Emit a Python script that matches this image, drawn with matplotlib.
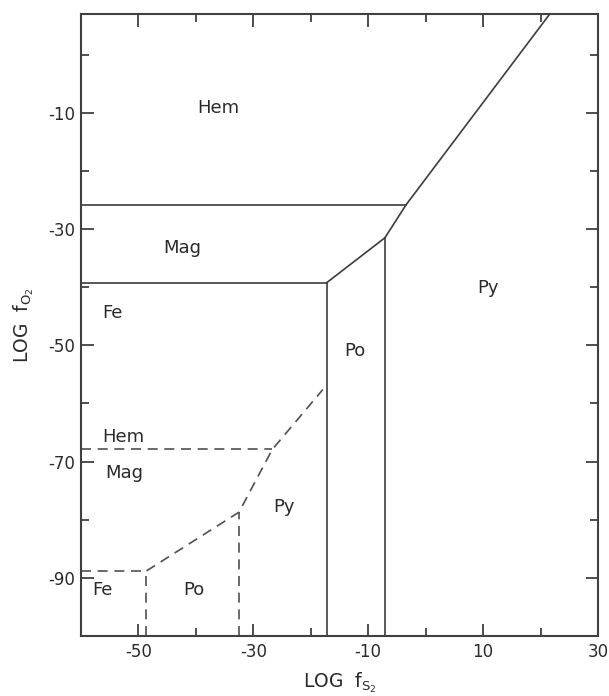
import matplotlib
matplotlib.use("Agg")
import matplotlib.pyplot as plt
from matplotlib.ticker import MultipleLocator

plt.rcParams['font.family'] = ['DejaVu Sans']
plt.rcParams['axes.unicode_minus'] = False

# ---- data (log fS2, log fO2) ----
xlim = (-60, 30)
ylim = (-100, 7)

# solid boundaries (upper set)
hem_mag_x = [-60, -3.4]
hem_mag_y = [-25.8, -25.8]
mag_fe_x = [-60, -17.2]
mag_fe_y = [-39.2, -39.2]
po_top_x = [-17.2, -7.1]
po_top_y = [-39.2, -31.5]
py_x = [-7.1, -3.4, 21.6]
py_y = [-31.5, -25.8, 7]
fe_po_x = -17.2
po_py_x = -7.1

# dashed boundaries (lower set)
hem_mag_d_x = [-60, -26.7]
hem_mag_d_y = [-67.9, -67.9]
py_d_x = [-48.6, -32.5, -26.7, -17.9]
py_d_y = [-88.8, -78.7, -67.9, -57.6]
fe_d_x = [-60, -48.6]
fe_d_y = [-88.8, -88.8]
fe_po_d_x = -48.6
po_py_d_x = -32.5

labels = ["Hem", "Mag", "Py", "Fe", "Po", "Hem", "Mag", "Py", "Fe", "Po"]
label_x = [-36.1, -42.3, 10.8, -54.5, -12.3, -52.7, -52.5, -24.6, -56.3, -40.3]
label_y = [-9.1, -33.2, -40.2, -44.5, -50.9, -65.7, -71.9, -77.8, -92.1, -92.1]

xticks = [-50, -30, -10, 10, 30]
yticks = [-10, -30, -50, -70, -90]

# ---- figure ----
fig = plt.figure(figsize=(6.09, 6.96), dpi=100)
ax = fig.add_axes([0.133, 0.0862, 0.849, 0.8937])
ax.set_xlim(*xlim)
ax.set_ylim(*ylim)

lc = '#3c3c3c'
lw = 1.2
ax.plot(hem_mag_x, hem_mag_y, color=lc, lw=lw)
ax.plot(mag_fe_x, mag_fe_y, color=lc, lw=lw)
ax.plot(po_top_x, po_top_y, color=lc, lw=lw)
ax.plot(py_x, py_y, color=lc, lw=lw, clip_on=True)
ax.plot([fe_po_x, fe_po_x], [ylim[0], mag_fe_y[1]], color=lc, lw=lw)
ax.plot([po_py_x, po_py_x], [ylim[0], po_top_y[1]], color=lc, lw=lw)

dc = '#505050'
ds = (0, (6, 4))
ax.plot(hem_mag_d_x, hem_mag_d_y, color=dc, lw=lw, linestyle=ds)
ax.plot(py_d_x, py_d_y, color=dc, lw=lw, linestyle=ds)
ax.plot(fe_d_x, fe_d_y, color=dc, lw=lw, linestyle=ds)
ax.plot([fe_po_d_x, fe_po_d_x], [ylim[0], py_d_y[0]], color=dc, lw=lw, linestyle=ds)
ax.plot([po_py_d_x, po_py_d_x], [ylim[0], py_d_y[1]], color=dc, lw=lw, linestyle=ds)

for t, x, y in zip(labels, label_x, label_y):
    ax.text(x, y, t, ha='center', va='center', fontsize=13, color='#2a2a2a')

ax.set_xticks(xticks)
ax.set_yticks(yticks)
ax.xaxis.set_minor_locator(MultipleLocator(10))
ax.yaxis.set_minor_locator(MultipleLocator(10))
ax.tick_params(which='both', direction='in', top=True, right=True,
               color='#404040', width=1.3, labelsize=12, labelcolor='#2a2a2a')
ax.tick_params(which='major', length=9)
ax.tick_params(which='minor', length=5.5)
ax.tick_params(axis='x', pad=5)
ax.tick_params(axis='y', pad=4)

for s in ax.spines.values():
    s.set_color('#404040')
    s.set_linewidth(1.5)

ax.set_xlabel(r'LOG  $\mathregular{f_{S_2}}$', fontsize=13.5, color='#2a2a2a', labelpad=7)
ax.set_ylabel(r'LOG  $\mathregular{f_{O_2}}$', fontsize=13.5, color='#2a2a2a', labelpad=9)

fig.savefig('out.png', dpi=100)
